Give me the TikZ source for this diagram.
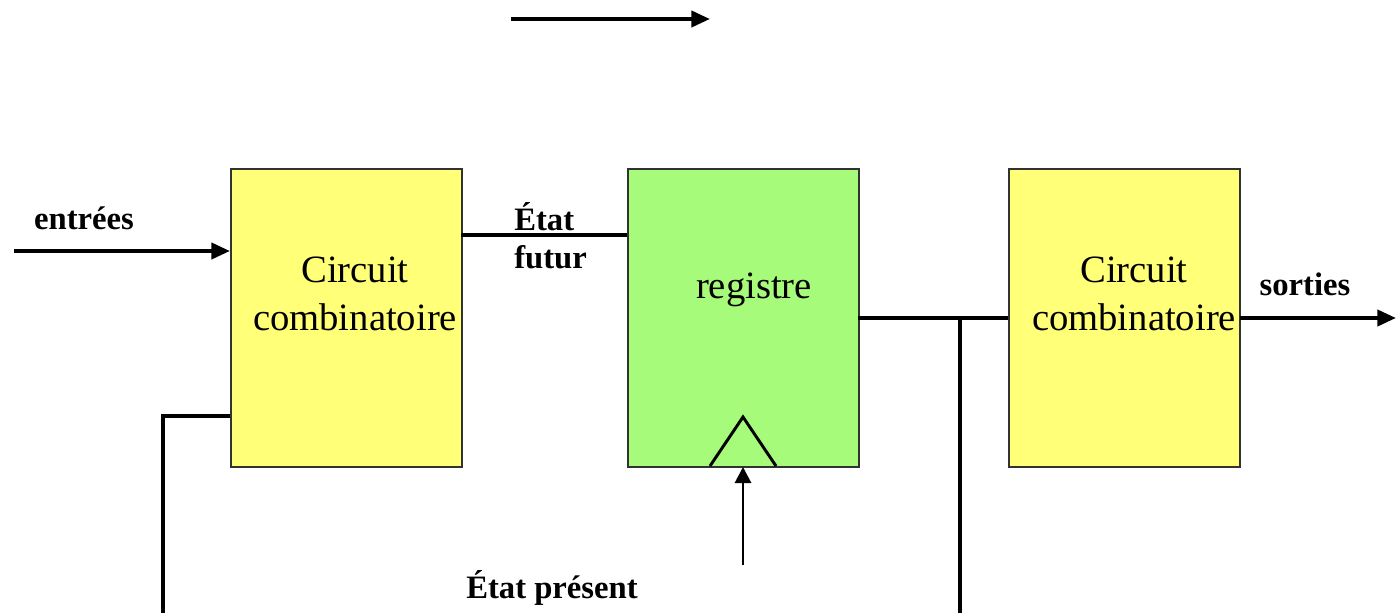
\documentclass[tikz,border=0pt]{standalone}
\usepackage{fontspec}
\setmainfont{Liberation Serif}
\usetikzlibrary{arrows.meta}
\definecolor{combfill}{RGB}{255,255,120}
\definecolor{regfill}{RGB}{166,251,122}
\definecolor{boxline}{RGB}{50,50,50}
\begin{document}
\begin{tikzpicture}[x=0.75pt,y=-0.75pt,
  block/.style={draw=boxline,line width=1.3pt,minimum width=231*0.75pt,minimum height=298*0.75pt,inner sep=0pt},
  wire/.style={line width=3pt},
  sig/.style={wire,-{Triangle[length=14pt,width=12pt]}},
  lbl/.style={font=\fontsize{24.5}{28}\selectfont\bfseries,inner sep=0pt},
  big/.style={font=\fontsize{29}{35}\selectfont,inner sep=0pt,align=center}]
\useasboundingbox (0,0) rectangle (1396,613);

% direction arrow at the top
\coordinate (ta) at (511,19);
\coordinate (tb) at (710,19);
\draw[sig] (ta) -- (tb);

% blocks
\node[block,fill=combfill,anchor=north west] (c1) at (230,168) {};
\node[block,fill=regfill,anchor=north west] (reg) at (627,168) {};
\node[block,fill=combfill,anchor=north west] (c2) at (1008,168) {};

\node[big] (c1t) at (355,294) {Circuit\\[1pt]combinatoire};
\node[big] (regt) at (754,290) {registre};
\node[big] (c2t) at (1134,294) {Circuit\\[1pt]combinatoire};

% clock input triangle
\coordinate (k1) at (710,466);
\coordinate (k2) at (743,417);
\coordinate (k3) at (776,466);
\draw[line width=2.2pt] (k1) -- (k2) -- (k3);
\coordinate (clk) at (743,565);
\coordinate (clkin) at (743,467);
\draw[line width=2.2pt,-{Triangle[length=12pt,width=12pt]}] (clk) -- (clkin);

% inputs
\coordinate (inS) at (14,251);
\coordinate (inE) at (230,251);
\draw[sig] (inS) -- (inE);
\node[lbl] (lin) at (84,218) {entrées};

% next state
\coordinate (nsA) at (461,235);
\coordinate (nsB) at (627,235);
\draw[wire] (nsA) -- (nsB);
\node[lbl,anchor=west] (lns1) at (514,217) {État};
\node[lbl,anchor=west] (lns2) at (514,257) {futur};

% present state to output logic, and feedback
\coordinate (psA) at (858,318);
\coordinate (psJ) at (960,318);
\coordinate (psB) at (1008,318);
\coordinate (psD) at (960,613);
\draw[wire] (psA) -- (psB);
\draw[wire] (psJ) -- (psD);

\coordinate (fbA) at (230,416);
\coordinate (fbB) at (163,416);
\coordinate (fbC) at (163,613);
\draw[wire] (fbA) -- (fbB) -- (fbC);
\node[lbl] (lps) at (552,588) {État présent};

% outputs
\coordinate (outA) at (1240,318);
\coordinate (outB) at (1396,318);
\draw[sig] (outA) -- (outB);
\node[lbl] (lout) at (1305,284) {sorties};
\end{tikzpicture}
\end{document}
